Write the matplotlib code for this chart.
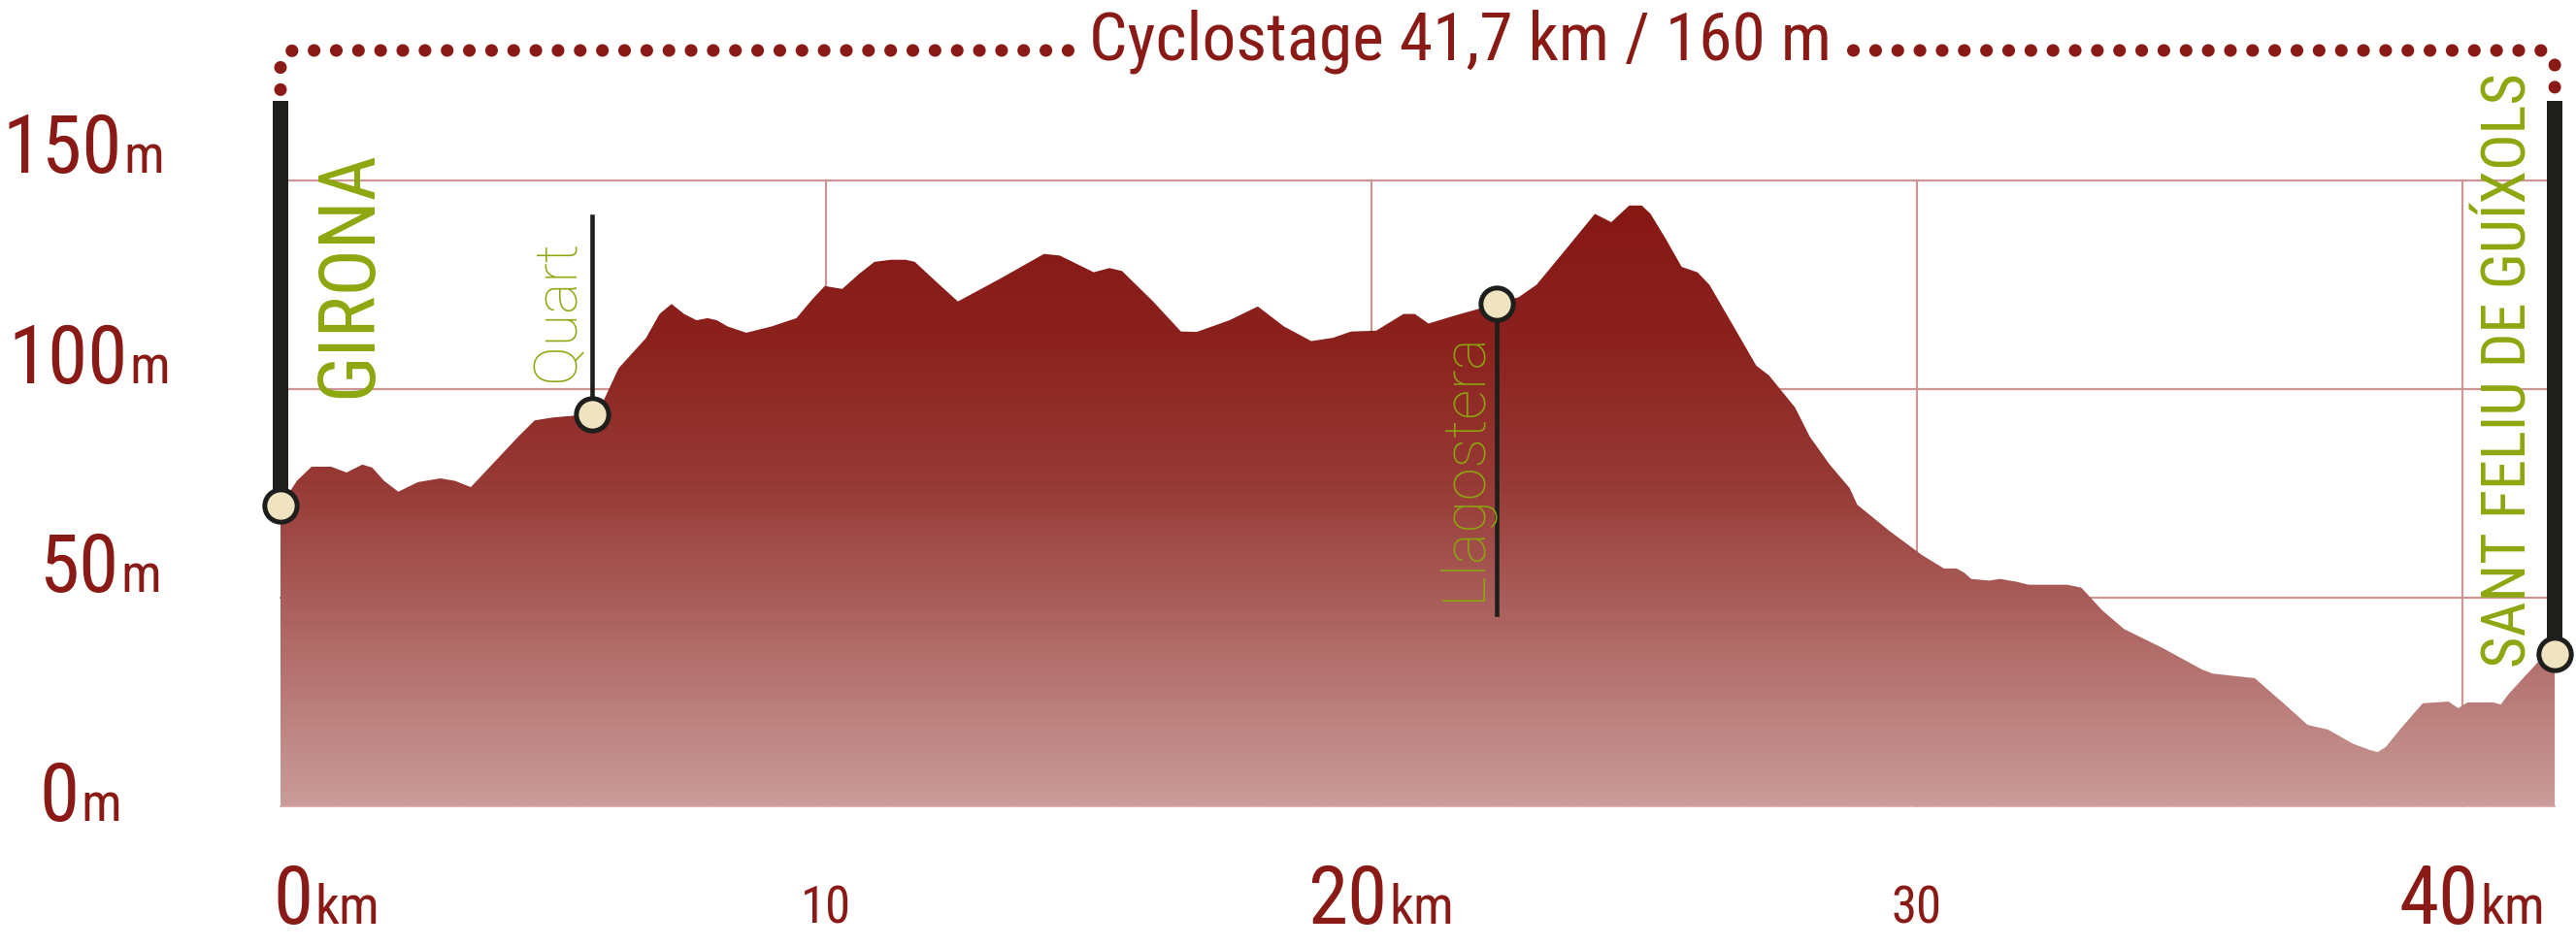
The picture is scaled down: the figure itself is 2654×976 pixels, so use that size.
import numpy as np
import matplotlib
matplotlib.use('Agg')
import matplotlib.pyplot as plt
from matplotlib import font_manager
from matplotlib.colors import LinearSegmentedColormap
from matplotlib.patches import Polygon


# elevation profile (km, m)
km = [0.0, 0.3, 0.57, 0.93, 1.21, 1.5, 1.68, 1.9, 2.16, 2.52, 2.93, 3.2, 3.49,
      4.36, 4.66, 5.0, 5.71, 5.89, 6.2, 6.7, 6.95, 7.17, 7.4, 7.63, 7.83, 8.0,
      8.2, 8.54, 9.0, 9.46, 9.75, 9.98, 10.3, 10.6, 10.89, 11.2, 11.46, 11.63,
      12.0, 12.42, 13.2, 14.0, 14.29, 14.91, 15.2, 15.43, 16.0, 16.51, 16.8,
      17.4, 17.92, 18.4, 18.9, 19.3, 19.63, 20.09, 20.59, 20.8, 21.05, 21.5,
      21.96, 22.3, 22.7, 23.03, 23.6, 24.1, 24.4, 24.73, 24.96, 25.12, 25.4,
      25.69, 25.98, 26.2, 26.6, 27.06, 27.29, 27.77, 28.04, 28.4, 28.77, 28.91,
      29.5, 30.1, 30.5, 30.73, 30.87, 31.0, 31.33, 31.53, 31.84, 32.05, 32.76,
      33.02, 33.4, 33.8, 34.5, 35.23, 35.43, 36.2, 36.7, 37.17, 37.54, 38.0,
      38.31, 38.45, 38.6, 38.9, 39.28, 39.75, 39.93, 40.1, 40.57, 40.71, 40.86,
      41.38, 41.7]
elev = [72, 78, 81.4, 81.4, 80, 81.9, 81.2, 78, 75.4, 77.7, 78.6, 78, 76.5,
        88.6, 92.5, 93.2, 94, 96.3, 105, 112.2, 118, 120.4, 118, 116.5, 117,
        116.5, 115, 113.5, 115, 117, 121.5, 124.7, 124, 127.5, 130.5, 131, 131,
        130.5, 126, 121, 126.5, 132.4, 132, 128, 129, 128.3, 121, 113.8, 113.7,
        116.5, 119.8, 115, 111.5, 112.3, 113.8, 114, 118, 118, 115.7, 117.5,
        119.2, 120.5, 122, 125, 134, 142, 140, 144, 144, 142, 136,
        129.3, 128, 125, 116, 105.6, 103.3, 95.6, 88.6, 82, 76.3, 72.3,
        66, 60.2, 57, 57, 56, 54.5, 54.1, 54.5, 53.8, 53.1, 53.1,
        52.4, 47, 42.5, 38, 32.8, 31.8, 30.7, 25, 19.5, 18.4, 15,
        13.5, 13, 14.2, 19, 24.7, 25.1, 23.5, 24.9, 24.9, 24.4, 27,
        34.4, 36.5]

total_km = 41.7
total_climb = 160
title = "Cyclostage 41,7 km / 160 m"

y_ticks = [0, 50, 100, 150]
x_ticks = [0, 10, 20, 30, 40]
x_major = [0, 20, 40]

start_name = "GIRONA"
end_name = "SANT FELIU DE GUÍXOLS"
way_names = ["Quart", "Llagostera"]
way_km = [5.71, 22.3]
way_elev = [94, 120.5]
way_stem_end = [141.4, 46]  # stem goes up for Quart, down for Llagostera

RED = '#8A1A15'
GREEN = '#8CA70F'
BLACK = '#1E1E1C'
CREAM = '#F0E3C0'
GRID = '#CD9593'

avail = {f.name for f in font_manager.fontManager.ttflist}


def pick(*names):
    for n in names:
        if n in avail:
            return n
    return 'DejaVu Sans'


COND = pick('Roboto Condensed', 'Liberation Sans Narrow', 'DejaVu Sans Condensed',
            'Noto Sans Condensed', 'DejaVu Sans')
LIGHT = pick('Roboto', 'Lato', 'Open Sans', 'Inter', 'DejaVu Sans')

# page geometry (pixels of the 2654x976 image)
W, H = 2654, 976
X0, PXKM = 289, 56.19
Y0, PXM = 831, 4.3


def dx(p):
    return (p - X0) / PXKM


def dy(p):
    return (Y0 - p) / PXM


fig = plt.figure(figsize=(W / 100, H / 100), dpi=100)
ax = fig.add_axes([0, 0, 1, 1])

# grid
for y in y_ticks[1:]:
    ax.plot([0, total_km], [y, y], color=GRID, lw=1.6, zorder=1)
for x in x_ticks[1:]:
    ax.plot([x, x], [0, y_ticks[-1]], color=GRID, lw=1.6, zorder=1)

# gradient filled profile
cmap = LinearSegmentedColormap.from_list(
    'relief', [(0, '#CA9C9A'), (0.535, '#973A36'), (0.78, '#8B211D'), (1, '#861814')])
top = max(elev)
grad = np.linspace(0, 1, 512).reshape(-1, 1)
im = ax.imshow(grad, extent=(0, total_km, 0, top), origin='lower', cmap=cmap,
               aspect='auto', zorder=2, interpolation='bilinear')
poly = Polygon(np.column_stack([[0] + km + [km[-1]], [0] + elev + [0]]),
               closed=True, facecolor='none', edgecolor='none')
ax.add_patch(poly)
im.set_clip_path(poly)
ax.plot([0, total_km], [0, 0], color='#D6A5A3', lw=1.2, zorder=3)

# start / end bars
bar_top = dy(104)
ax.plot([0, 0], [elev[0], bar_top], color=BLACK, lw=11.5, solid_capstyle='butt', zorder=5)
ax.plot([total_km, total_km], [elev[-1], bar_top], color=BLACK, lw=11.5,
        solid_capstyle='butt', zorder=5)

# waypoint stems
for xk, ye, ys in zip(way_km, way_elev, way_stem_end):
    ax.plot([xk, xk], [ye, ys], color=BLACK, lw=3.3, zorder=5)

mk = dict(marker='o', ms=24, mfc=CREAM, mec=BLACK, mew=3.6, ls='none', zorder=6)
ax.plot([0, total_km] + way_km, [elev[0], elev[-1]] + way_elev, **mk)

# place names
ax.text(dx(382), dy(410), start_name, rotation=90, rotation_mode='anchor',
        ha='left', va='baseline', color=GREEN, fontsize=58, family=COND,
        fontstretch='condensed', zorder=7)
ax.text(dx(2602), dy(688), end_name, rotation=90, rotation_mode='anchor',
        ha='left', va='baseline', color=GREEN, fontsize=45, family=COND,
        fontstretch='condensed', zorder=7)
ax.text(dx(591), dy(393), way_names[0], rotation=90, rotation_mode='anchor',
        ha='left', va='baseline', color=GREEN, fontsize=44, family=LIGHT,
        fontweight='light', zorder=7)
ax.text(dx(1524), dy(619), way_names[1], rotation=90, rotation_mode='anchor',
        ha='left', va='baseline', color=GREEN, fontsize=44, family=LIGHT,
        fontweight='light', zorder=7)

tk = dict(color=RED, family=COND, fontstretch='condensed', va='baseline')

# y labels: big number + small unit
y_left = [40, 40, 8, 2]
y_nudge = [-3.5, 1.4, 1.4, 1.8]
big = []
for v, lx, nd in zip(y_ticks, y_left, y_nudge):
    big.append((ax.text(dx(lx), v + nd, str(v), ha='left', fontsize=60, **tk), 'm', v + nd))

# x labels
x_base = dy(952)
for v in x_ticks:
    if v in x_major:
        if v == 0:
            t = ax.text(v + dx(281), x_base, str(v), ha='left', fontsize=60, **tk)
        else:
            t = ax.text(v + 0.3, x_base, str(v), ha='right', fontsize=60, **tk)
        big.append((t, 'km', x_base))
    else:
        ax.text(v, x_base, str(v), ha='center', fontsize=38, **tk)

# title
tx = ax.text(dx(1505), dy(62), title, ha='center', fontsize=50, **tk)

ax.set_xlim(dx(0), dx(W))
ax.set_ylim(dy(H), dy(0))
ax.axis('off')

fig.canvas.draw()
inv = ax.transData.inverted()
for t, unit, yb in big:
    bb = t.get_window_extent()
    xr = inv.transform((bb.x1 + 2, bb.y0))[0]
    ax.text(xr, yb, unit, ha='left', fontsize=40, **tk)

# dotted bracket over the whole stage, broken by the title
bb = tx.get_window_extent()
tl = inv.transform((bb.x0 - 22, 0))[0]
tr = inv.transform((bb.x1 + 22, 0))[0]
yb = dy(52)
rk, rm = 15 / PXKM, 15 / PXM
a = np.linspace(np.pi, np.pi / 2, 12)
left_x = np.r_[0, 0, rk + rk * np.cos(a), tl]
left_y = np.r_[bar_top, yb - rm, yb - rm + rm * np.sin(a), yb]
a = np.linspace(np.pi / 2, 0, 12)
right_x = np.r_[tr, total_km - rk + rk * np.cos(a), total_km, total_km]
right_y = np.r_[yb, yb - rm + rm * np.sin(a), yb - rm, bar_top]
dots = dict(color=RED, lw=9.4, ls=(0, (0.01, 1.74)), dash_capstyle='round', zorder=4)
ax.plot(left_x[::-1], left_y[::-1], **dots)
ax.plot(right_x, right_y, **dots)

fig.savefig('out.png', dpi=100)
